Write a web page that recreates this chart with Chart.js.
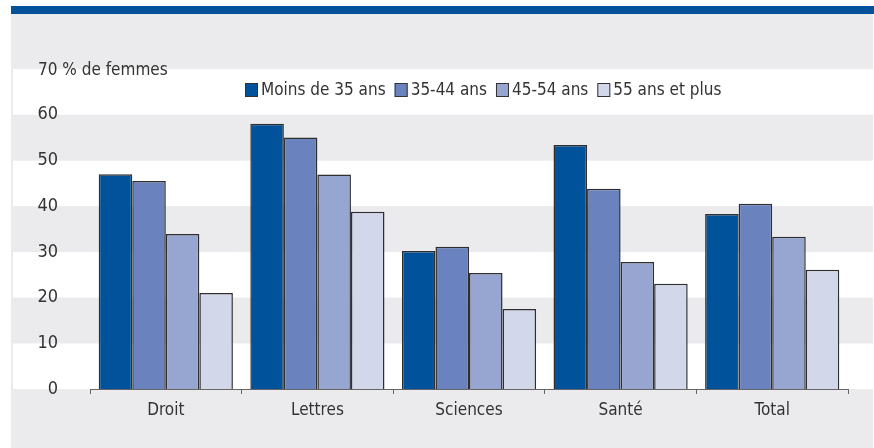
<!DOCTYPE html>
<html lang="fr">
<head>
<meta charset="utf-8">
<script src="https://cdn.jsdelivr.net/npm/chart.js@4.4.1/dist/chart.umd.min.js"></script>
<style>
  html, body { margin: 0; padding: 0; background: #fff; }
  #wrap { width: 874px; height: 448px; position: relative; }
</style>
</head>
<body>
<div id="wrap"><canvas id="chart" width="874" height="448"></canvas></div>
<script>
'use strict';

const categories = ['Droit', 'Lettres', 'Sciences', 'Santé', 'Total'];
const seriesLabels = ['Moins de 35 ans', '35-44 ans', '45-54 ans', '55 ans et plus'];
const moins35 = [47, 58, 30.2, 53.4, 38.3];
const ans35_44 = [45.5, 55, 31.1, 43.8, 40.5];
const ans45_54 = [33.9, 46.9, 25.4, 27.8, 33.3];
const ans55plus = [21, 38.8, 17.5, 23, 26.1];
const yTicks = [0, 10, 20, 30, 40, 50, 60, 70];

const colors = ['#00529b', '#6a82bd', '#97a6d1', '#d2d8ea'];
const FONT = "'Liberation Sans Narrow', 'DejaVu Sans Condensed', sans-serif";
const TEXT = '#333333';

const backdrop = {
  id: 'backdrop',
  beforeDraw(chart) {
    const { ctx, scales: { y } } = chart;
    ctx.save();
    ctx.fillStyle = '#ebebed';
    ctx.fillRect(11, 14, 862, 434);
    ctx.fillStyle = '#00529b';
    ctx.fillRect(11, 6, 863, 8);
    // alternating bands between ticks
    for (let i = 0; i < yTicks.length - 1; i++) {
      const top = y.getPixelForValue(yTicks[i + 1]);
      const bottom = y.getPixelForValue(yTicks[i]);
      ctx.fillStyle = i % 2 === 0 ? '#ffffff' : '#ebebed';
      ctx.fillRect(13, top, 860, bottom - top);
    }
    ctx.restore();
  },
  afterDraw(chart) {
    const { ctx, scales: { y } } = chart;
    ctx.save();
    ctx.font = `17px ${FONT}`;
    ctx.fillStyle = TEXT;
    ctx.textBaseline = 'middle';
    ctx.textAlign = 'left';
    ctx.fillText('70 % de femmes', 38, y.getPixelForValue(70) + 2);

    // legend
    let x = 245;
    const cy = 90;
    chart.data.datasets.forEach((ds) => {
      ctx.fillStyle = ds.backgroundColor;
      ctx.fillRect(x, cy - 7, 13, 14);
      ctx.strokeStyle = '#333';
      ctx.lineWidth = 1;
      ctx.strokeRect(x + 0.5, cy - 6.5, 12, 13);
      x += 16;
      ctx.fillStyle = TEXT;
      ctx.fillText(ds.label, x, cy + 1);
      x += ctx.measureText(ds.label).width + 9;
    });
    ctx.restore();
  }
};

const seriesData = [moins35, ans35_44, ans45_54, ans55plus];

new Chart(document.getElementById('chart'), {
  type: 'bar',
  data: {
    labels: categories,
    datasets: seriesData.map((values, i) => ({
      label: seriesLabels[i],
      data: values,
      backgroundColor: colors[i],
      borderColor: '#2f2f2f',
      borderWidth: 1.5,
      categoryPercentage: 0.885,
      barPercentage: 1
    }))
  },
  options: {
    responsive: false,
    animation: false,
    layout: { padding: { top: 69, right: 26, bottom: 19, left: 0 } },
    plugins: { legend: { display: false }, tooltip: { enabled: false } },
    scales: {
      x: {
        grid: {
          display: true,
          offset: true,
          drawOnChartArea: false,
          drawTicks: true,
          tickLength: 5,
          color: '#666'
        },
        border: { display: true, color: '#666', width: 1 },
        ticks: { font: { family: FONT, size: 17 }, color: TEXT, padding: 6 },
        afterFit(scale) { scale.height = 40; }
      },
      y: {
        min: 0,
        max: 70,
        afterBuildTicks(scale) { scale.ticks = yTicks.map((v) => ({ value: v })); },
        grid: { display: false },
        border: { display: false },
        ticks: {
          font: { family: FONT, size: 18 },
          color: TEXT,
          padding: 24,
          callback: (v) => (v === 70 ? '' : String(v))
        },
        afterFit(scale) { scale.width = 90; }
      }
    }
  },
  plugins: [backdrop]
});
</script>
</body>
</html>
